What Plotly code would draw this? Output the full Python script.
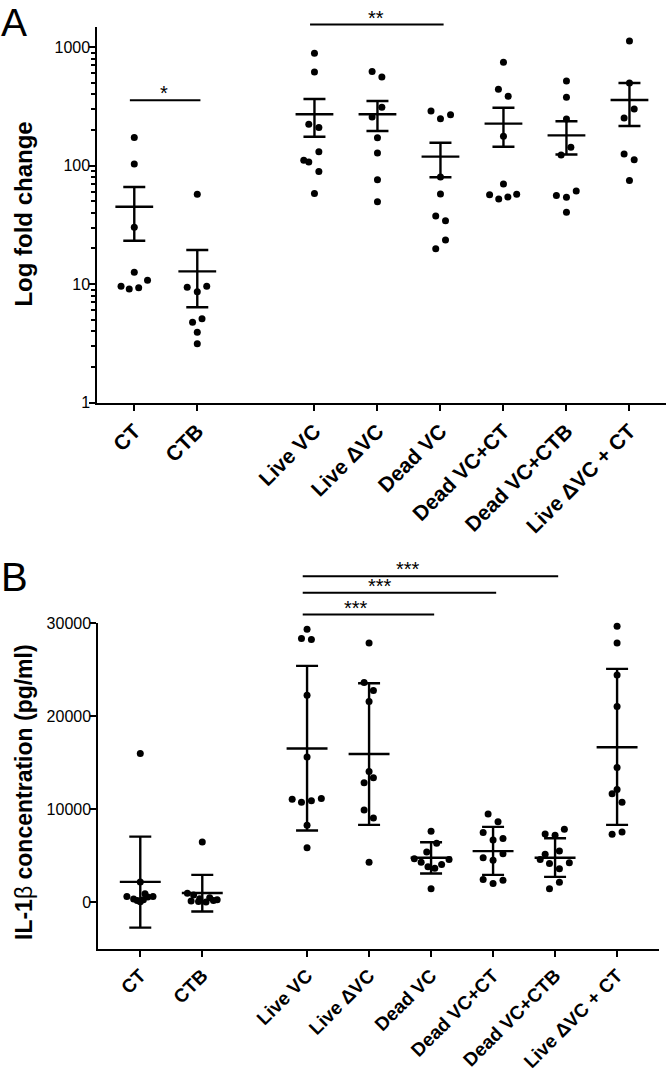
import math
import plotly.graph_objects as go

# ---------------- data ----------------
categories = ["CT", "CTB", "Live VC", "Live ΔVC", "Dead VC", "Dead VC+CT", "Dead VC+CTB", "Live ΔVC + CT"]
pos_a = [0, 1, 2.86, 3.86, 4.86, 5.86, 6.86, 7.86]
pos_b = [0, 1, 2.69, 3.69, 4.69, 5.69, 6.69, 7.69]

# Panel A: log fold change (individual points) and x-jitter
a_ct = [173, 103, 30.2, 12.6, 9.6, 9.1, 9.3, 10.8]
a_ct_dx = [0, 0, 0, 0, -0.21, -0.08, 0.07, 0.21]
a_ctb = [57.3, 9.4, 8.6, 9.6, 4.76, 5.1, 3.92, 3.14]
a_ctb_dx = [0, -0.16, 0, 0.15, -0.075, 0.075, 0, 0]
a_livevc = [887, 617, 223, 210, 131, 111, 107, 89, 58]
a_livevc_dx = [0, 0, -0.09, 0.07, 0.07, -0.17, -0.09, 0.07, 0]
a_livedvc = [621, 560, 311, 257, 172, 128, 76, 49.6]
a_livedvc_dx = [-0.085, 0.07, 0.07, -0.085, 0, 0, 0, 0]
a_deadvc = [289, 249, 269, 80, 57.6, 37.6, 34.3, 23.6, 19.9]
a_deadvc_dx = [-0.15, 0, 0.16, 0, 0, -0.075, 0.08, 0.08, -0.075]
a_deadvcct = [744, 441, 384, 177, 70, 56.8, 52.3, 54.4, 57.2]
a_deadvcct_dx = [0, -0.08, 0.075, 0, 0, -0.22, -0.075, 0.07, 0.21]
a_deadvcctb = [517, 377, 247, 143, 123, 61, 56, 54, 40.3]
a_deadvcctb_dx = [0, 0, 0, 0.07, -0.085, 0.155, -0.16, 0, 0]
a_livedvcct = [1125, 498, 300, 252, 125, 112, 75]
a_livedvcct_dx = [0, 0, 0.075, -0.085, -0.085, 0.075, 0]

a_mean = [45, 12.8, 271, 271, 119, 226, 180, 358]
a_upper = [66, 19.4, 365, 351, 156, 308, 237, 498]
a_lower = [23.2, 6.37, 175, 196, 79.7, 144, 124, 216]

# Panel B: IL-1beta concentration (pg/ml)
b_ct = [16000, 2210, 650, 370, 80, 940, 650, 200, 300, 600]
b_ct_dx = [0, 0, -0.216, -0.107, 0, 0.076, 0.205, -0.05, 0.05, 0.12]
b_ctb = [6500, 1000, 800, 500, 300, 100, 50, 200, 400, 150]
b_ctb_dx = [0, -0.24, -0.14, 0.12, 0.24, -0.06, 0.06, 0.18, -0.04, -0.18]
b_livevc = [29350, 28380, 28270, 22280, 15640, 11090, 10770, 10940, 11160, 8310, 5890]
b_livevc_dx = [0, -0.09, 0.07, 0, 0, -0.24, -0.09, 0.07, 0.23, 0, 0]
b_livedvc = [27880, 23650, 22790, 21600, 14080, 13400, 12860, 9930, 9070, 4330]
b_livedvc_dx = [0, -0.08, 0.07, 0, 0, 0.07, -0.08, -0.08, 0.07, 0]
b_deadvc = [7660, 6360, 5420, 4700, 4330, 3830, 3680, 4080, 4620, 1480]
b_deadvc_dx = [0, 0.09, -0.07, -0.27, -0.16, -0.05, 0.06, 0.17, 0.29, 0]
b_deadvcct = [9500, 8670, 7520, 6720, 6870, 5240, 4810, 4550, 2460, 2030, 2380]
b_deadvcct_dx = [-0.08, 0.08, -0.16, 0, 0.16, 0.16, -0.16, 0, -0.16, 0, 0.16]
b_deadvcctb = [7870, 7370, 7220, 5520, 5170, 4620, 4190, 4270, 3620, 2170, 1480]
b_deadvcctb_dx = [0.15, -0.16, 0, 0.07, -0.16, -0.24, -0.09, 0.23, 0.07, 0.07, -0.09]
b_livedvcct = [29680, 27880, 24450, 21050, 14510, 12130, 11670, 10770, 7330, 7580]
b_livedvcct_dx = [0, 0, 0, 0, 0, 0, -0.08, 0.08, -0.08, 0.08]

b_mean = [2210, 1020, 16540, 15960, 4810, 5520, 4810, 16680]
b_upper = [7080, 2970, 25420, 23550, 6470, 8120, 6900, 25100]
b_lower = [-2700, -970, 7730, 8340, 3110, 2970, 2750, 8340]

# significance comparisons
a_sig_from = ["CT", "Live VC"]
a_sig_to = ["CTB", "Dead VC"]
a_sig_level = [356, 1549]
a_sig_label = ["*", "**"]
a_sig_textx = [0.47, 3.83]

b_sig_from = ["Live VC", "Live VC", "Live VC"]
b_sig_to = ["Dead VC+CTB", "Dead VC+CT", "Dead VC"]
b_sig_level = [35060, 33290, 30940]
b_sig_label = ["***", "***", "***"]
b_sig_textx = [4.31, 3.86, 3.48]

a_yticks = [1, 10, 100, 1000]
b_yticks = [0, 10000, 20000, 30000]

# ---------------- figure ----------------
FONT = "Liberation Sans, Arial, Helvetica, sans-serif"
W, H = 666, 1072

a_groups = [(a_ct, a_ct_dx), (a_ctb, a_ctb_dx), (a_livevc, a_livevc_dx), (a_livedvc, a_livedvc_dx),
            (a_deadvc, a_deadvc_dx), (a_deadvcct, a_deadvcct_dx), (a_deadvcctb, a_deadvcctb_dx),
            (a_livedvcct, a_livedvcct_dx)]
b_groups = [(b_ct, b_ct_dx), (b_ctb, b_ctb_dx), (b_livevc, b_livevc_dx), (b_livedvc, b_livedvc_dx),
            (b_deadvc, b_deadvc_dx), (b_deadvcct, b_deadvcct_dx), (b_deadvcctb, b_deadvcctb_dx),
            (b_livedvcct, b_livedvcct_dx)]

fig = go.Figure()


def add_panel(groups, pos, mean, upper, lower, xa, ya, half_mean, cap_px):
    mx, my = [], []
    for p, m in zip(pos, mean):
        mx += [p - half_mean, p + half_mean, None]
        my += [m, m, None]
    fig.add_trace(go.Scatter(x=mx, y=my, mode="lines", line=dict(color="black", width=2.4),
                             xaxis=xa, yaxis=ya, hoverinfo="skip"))
    fig.add_trace(go.Scatter(
        x=pos, y=mean, mode="markers", marker=dict(size=1, color="rgba(0,0,0,0)"),
        error_y=dict(type="data", symmetric=False,
                     array=[u - m for u, m in zip(upper, mean)],
                     arrayminus=[m - l for m, l in zip(mean, lower)],
                     width=cap_px, thickness=2.4, color="black"),
        xaxis=xa, yaxis=ya, hoverinfo="skip"))
    px, py = [], []
    for p, (vals, dx) in zip(pos, groups):
        px += [p + d for d in dx]
        py += vals
    fig.add_trace(go.Scatter(x=px, y=py, mode="markers", marker=dict(size=7, color="black"),
                             xaxis=xa, yaxis=ya, cliponaxis=False))


add_panel(a_groups, pos_a, a_mean, a_upper, a_lower, "x", "y", 0.30, 11)
add_panel(b_groups, pos_b, b_mean, b_upper, b_lower, "x2", "y2", 0.33, 11)

a_x_dom = [97.3 / W, 1.0]
a_y_dom = [1 - 402.6 / H, 1 - 26.7 / H]
b_x_dom = [98.3 / W, 659.3 / W]
b_y_dom = [1 - 949 / H, 1 - 623.3 / H]
a_xrange = [-0.587, 8.44]
a_yrange = [0, 3.172]
b_xrange = [-0.677, 8.371]
b_yrange = [-5000, 30000]

common_x = dict(tickmode="array", ticks="outside", ticklen=6, tickwidth=2, tickcolor="black",
                showline=True, linewidth=2, linecolor="black", showgrid=False, zeroline=False,
                automargin=False, tickangle=-45)
common_y = dict(tickmode="array", ticks="outside", ticklen=6, tickwidth=2, tickcolor="black",
                showline=True, linewidth=2, linecolor="black", showgrid=False, zeroline=False,
                automargin=False, ticklabelstandoff=-4,
                tickfont=dict(family=FONT, size=16, color="black"))

fig.update_layout(
    width=W, height=H, margin=dict(l=0, r=0, t=0, b=0, pad=0), autosize=False,
    paper_bgcolor="white", plot_bgcolor="white", showlegend=False,
    xaxis=dict(domain=a_x_dom, range=a_xrange, tickvals=pos_a, ticktext=categories,
               anchor="y", tickfont=dict(family=FONT, size=21, color="black", weight="bold"),
               **common_x),
    yaxis=dict(domain=a_y_dom, range=a_yrange, type="log", tickvals=a_yticks,
               ticktext=[str(t) for t in a_yticks], anchor="x",
               minor=dict(ticks="outside", ticklen=4, tickwidth=1.5, tickcolor="black", dtick="D1",
                          showgrid=False),
               **common_y),
    xaxis2=dict(domain=b_x_dom, range=b_xrange, tickvals=pos_b, ticktext=categories,
                anchor="y2", tickfont=dict(family=FONT, size=19, color="black", weight="bold"),
                **common_x),
    yaxis2=dict(domain=b_y_dom, range=b_yrange, tickvals=b_yticks,
                ticktext=[str(t) for t in b_yticks], anchor="x2", **common_y),
)


def add_sig(froms, tos, levels, labels, textx, pos, xa, ya, yrange, is_log, fsize):
    for f, t, lv, lab, tx in zip(froms, tos, levels, labels, textx):
        x0 = pos[categories.index(f)] - 0.07
        x1 = pos[categories.index(t)] + 0.05
        v = math.log10(lv) if is_log else lv
        frac = (v - yrange[0]) / (yrange[1] - yrange[0])
        fig.add_shape(type="line", xref=xa, yref=ya + " domain", x0=x0, x1=x1, y0=frac, y1=frac,
                      line=dict(color="black", width=2))
        fig.add_annotation(text=lab, xref=xa, yref=ya + " domain", x=tx, y=frac, yanchor="bottom",
                           showarrow=False, font=dict(family=FONT, size=fsize, color="black"),
                           yshift=-6)


add_sig(a_sig_from, a_sig_to, a_sig_level, a_sig_label, a_sig_textx, pos_a, "x", "y", a_yrange, True, 20)
add_sig(b_sig_from, b_sig_to, b_sig_level, b_sig_label, b_sig_textx, pos_b, "x2", "y2", b_yrange, False, 20)

fig.add_annotation(text="<b>Log fold change</b>", xref="paper", yref="paper", x=24 / W,
                   y=1 - 214.6 / H, textangle=-90, showarrow=False, xanchor="center", yanchor="middle",
                   font=dict(family=FONT, size=24, color="black"))
fig.add_annotation(text="<b>IL-1</b>β<b> concentration (pg/ml)</b>", xref="paper", yref="paper",
                   x=24 / W, y=1 - 792 / H, textangle=-90, showarrow=False, xanchor="center",
                   yanchor="middle", font=dict(family=FONT, size=23, color="black"))

fig.add_annotation(text="A", xref="paper", yref="paper", x=0, y=1, xanchor="left",
                   yanchor="top", showarrow=False, borderpad=0,
                   font=dict(family=FONT, size=39, color="black"))
fig.add_annotation(text="B", xref="paper", yref="paper", x=0, y=1 - 577 / H, xanchor="left",
                   yanchor="middle", showarrow=False, borderpad=0,
                   font=dict(family=FONT, size=40, color="black"))

fig.write_html("out.html", config={"displayModeBar": False},
               post_script="document.body.style.margin='0px';")
